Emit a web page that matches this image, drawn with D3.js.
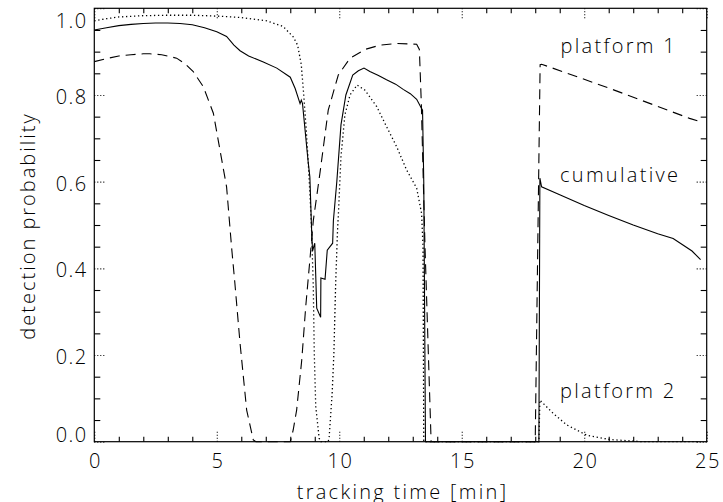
<!DOCTYPE html>
<html>
<head>
<meta charset="utf-8">
<script src="https://cdn.jsdelivr.net/npm/d3@7"></script>
<style>
  body { margin: 0; background: #fff; }
  text { font-family: "Open Sans", "DejaVu Sans", sans-serif; font-weight: 300; fill: #000; }
</style>
</head>
<body>
<div id="chart"></div>
<script>
// tick labels
var xTickVals = [0, 5, 10, 15, 20, 25];
var yTickVals = [0, 0.2, 0.4, 0.6, 0.8, 1.0];

// cumulative (solid)
var cumTime = [0, 0.5, 1, 1.5, 2, 2.5, 3, 3.5, 4, 4.5, 5, 5.4, 5.7, 5.95, 6.3, 6.9, 7.45, 8.0, 8.2, 8.4, 8.45, 8.5,
    8.73, 8.8, 8.87, 8.91, 9.0, 9.08, 9.24, 9.25, 9.42, 9.51, 9.73, 9.76, 9.9, 10.07, 10.27, 10.55, 10.78, 11.01,
    11.25, 11.6, 11.93, 12.3, 12.61, 12.9, 13.16, 13.3, 13.4, 13.45, 13.52, 18.15, 18.19, 18.26, 19, 20, 21, 22,
    23, 23.63, 24, 24.4, 24.75];
var cumProb = [0.950, 0.955, 0.960, 0.963, 0.965, 0.966, 0.966, 0.965, 0.962, 0.955, 0.946, 0.935, 0.915, 0.902,
    0.890, 0.876, 0.862, 0.841, 0.815, 0.780, 0.788, 0.780, 0.646, 0.611, 0.490, 0.440, 0.458, 0.308, 0.287, 0.378,
    0.375, 0.442, 0.458, 0.510, 0.600, 0.731, 0.800, 0.846, 0.856, 0.862, 0.854, 0.845, 0.835, 0.825, 0.813, 0.803,
    0.790, 0.775, 0.765, 0.600, 0, 0, 0.608, 0.588, 0.570, 0.545, 0.522, 0.500, 0.480, 0.469, 0.455, 0.440, 0.420];

// platform 1 (dashed)
var p1Time = [0, 0.5, 1, 1.5, 2, 2.27, 2.75, 3.36, 3.7, 4.04, 4.45, 4.86, 5.13, 5.4, 5.61, 5.74, 5.95, 6.22, 6.49,
    6.6, 8.0, 8.12, 8.26, 8.47, 8.63, 8.8, 8.94, 9.21, 9.55, 9.96, 10.44, 11.05, 11.66, 12.34, 13.16, 13.27, 13.35,
    13.5, 13.75, 18.0, 18.2, 18.26, 21.05, 24.3, 24.75];
var p1Prob = [0.877, 0.884, 0.890, 0.893, 0.895, 0.895, 0.893, 0.885, 0.872, 0.854, 0.819, 0.758, 0.673, 0.588,
    0.445, 0.365, 0.227, 0.073, 0.004, 0, 0, 0.027, 0.073, 0.189, 0.311, 0.419, 0.510, 0.619, 0.765, 0.846, 0.885,
    0.905, 0.915, 0.919, 0.917, 0.905, 0.780, 0.450, 0, 0, 0.870, 0.871, 0.815, 0.746, 0.738];

// platform 2 (dotted)
var p2Time = [0, 0.5, 1, 2, 3, 4, 5, 5.95, 7.04, 7.71, 8.12, 8.3, 8.45, 8.55, 8.65, 8.73, 8.83, 8.87, 8.94, 8.98,
    9.04, 9.18, 9.25, 9.55, 9.59, 9.71, 9.78, 9.85, 9.93, 9.96, 10.07, 10.23, 10.44, 10.73, 11.05, 11.53, 11.93,
    12.34, 12.75, 13.16, 13.36, 13.42, 13.45, 18.15, 18.19, 18.74, 19.28, 20.1, 21.05, 22.4, 24.75];
var p2Prob = [0.971, 0.976, 0.980, 0.983, 0.984, 0.984, 0.982, 0.979, 0.971, 0.958, 0.934, 0.915, 0.870, 0.800,
    0.720, 0.650, 0.540, 0.488, 0.358, 0.204, 0.081, 0.008, 0, 0, 0.012, 0.112, 0.204, 0.358, 0.488, 0.519, 0.658,
    0.754, 0.800, 0.823, 0.811, 0.773, 0.727, 0.681, 0.627, 0.585, 0.527, 0.450, 0, 0, 0.096, 0.065, 0.039, 0.015,
    0.005, 0, 0];

var labels = ["platform 1", "cumulative", "platform 2"];

(function () {
    var width = 723,
        height = 502,
        pl = 94.3, pr = 706.7, pt = 8.3, pb = 441.7;

    var svg = d3.select("#chart")
        .append("svg")
        .attr("width", width)
        .attr("height", height)
        .style("display", "block");

    svg.append("rect").attr("width", width).attr("height", height).attr("fill", "#fff");

    var x = d3.scaleLinear().domain([0, 25]).range([pl, pr]);
    var y = d3.scaleLinear().domain([0, 1]).range([pb, pt]);

    function zip(ts, ps) {
        return ts.map(function (t, i) { return [t, ps[i]]; });
    }

    var line = d3.line()
        .x(function (d) { return x(d[0]); })
        .y(function (d) { return y(d[1]); });

    var series = [
        { data: zip(cumTime, cumProb), dash: null, w: 1.1 },
        { data: zip(p1Time, p1Prob), dash: "10,6", w: 1.1 },
        { data: zip(p2Time, p2Prob), dash: "1.3,2.7", w: 1.3 }
    ];

    svg.selectAll(".series")
        .data(series)
        .enter().append("path")
        .attr("class", "series")
        .attr("d", function (d) { return line(d.data); })
        .attr("fill", "none")
        .attr("stroke", "#000")
        .attr("stroke-width", function (d) { return d.w; })
        .attr("stroke-dasharray", function (d) { return d.dash; });

    // minor ticks
    var xMinor = d3.range(0, 25.001, 1).filter(function (v) { return v % 5 !== 0; });
    var yMinor = d3.range(0, 20.5, 1).map(function (v) { return v / 20; })
        .filter(function (v) { return Math.round(v * 20) % 4 !== 0; });

    function styleAxis(g, dotted) {
        g.select(".domain").remove();
        g.selectAll(".tick line")
            .attr("stroke", "#000")
            .attr("stroke-width", 1.1)
            .attr("stroke-dasharray", dotted ? "1,2" : null);
        g.selectAll(".tick text")
            .style("font-family", null)
            .style("font-size", "20px")
            .style("letter-spacing", "1.5px")
            .attr("fill", "#000");
    }

    svg.append("g").attr("transform", "translate(0," + pb + ")")
        .call(d3.axisBottom(x).tickValues(xMinor).tickSize(-5).tickFormat(""))
        .call(styleAxis, false);
    svg.append("g").attr("transform", "translate(0," + pt + ")")
        .call(d3.axisTop(x).tickValues(xMinor).tickSize(-5).tickFormat(""))
        .call(styleAxis, false);
    svg.append("g").attr("transform", "translate(" + pl + ",0)")
        .call(d3.axisLeft(y).tickValues(yMinor).tickSize(-6).tickFormat(""))
        .call(styleAxis, false);
    svg.append("g").attr("transform", "translate(" + pr + ",0)")
        .call(d3.axisRight(y).tickValues(yMinor).tickSize(-6).tickFormat(""))
        .call(styleAxis, false);

    // major ticks (dotted) with labels
    var xAxisG = svg.append("g").attr("transform", "translate(0," + pb + ")")
        .call(d3.axisBottom(x).tickValues(xTickVals).tickSize(-10).tickPadding(12).tickFormat(d3.format("d")))
        .call(styleAxis, true);
    svg.append("g").attr("transform", "translate(0," + pt + ")")
        .call(d3.axisTop(x).tickValues(xTickVals).tickSize(-10).tickFormat(""))
        .call(styleAxis, true);
    var yAxisG = svg.append("g").attr("transform", "translate(" + pl + ",0)")
        .call(d3.axisLeft(y).tickValues(yTickVals).tickSize(-12).tickPadding(6.5).tickFormat(d3.format(".1f")))
        .call(styleAxis, true);
    svg.append("g").attr("transform", "translate(" + pr + ",0)")
        .call(d3.axisRight(y).tickValues(yTickVals).tickSize(-12).tickFormat(""))
        .call(styleAxis, true);

    // letter-spacing adds a trailing gap, so nudge centred labels back
    xAxisG.selectAll(".tick text").attr("dx", "0.75px");

    // end labels kept inside the frame, like the original
    yAxisG.selectAll(".tick text")
        .attr("dy", function (d) {
            if (d === 1) return "0.95em";
            if (d === 0) return "-0.03em";
            return "0.42em";
        });

    // frame
    svg.append("rect")
        .attr("x", pl).attr("y", pt)
        .attr("width", pr - pl).attr("height", pb - pt)
        .attr("fill", "none")
        .attr("stroke", "#000")
        .attr("stroke-width", 1.2);

    // axis titles
    svg.append("text")
        .attr("x", (pl + pr) / 2 + 2)
        .attr("y", 499)
        .attr("text-anchor", "middle")
        .style("font-size", "20px")
        .style("letter-spacing", "2.3px")
        .text("tracking time [min]");

    svg.append("text")
        .attr("transform", "translate(35," + ((pt + pb) / 2 + 1) + ") rotate(-90)")
        .attr("text-anchor", "middle")
        .style("font-size", "20px")
        .style("letter-spacing", "2.0px")
        .text("detection probability");

    // curve labels
    var labelPos = [[560.5, 53.3], [560, 182], [560, 398]];
    svg.selectAll(".curve-label")
        .data(labels)
        .enter().append("text")
        .attr("class", "curve-label")
        .attr("x", function (d, i) { return labelPos[i][0]; })
        .attr("y", function (d, i) { return labelPos[i][1]; })
        .style("font-size", "20px")
        .style("letter-spacing", "2.3px")
        .text(function (d) { return d; });
})();
</script>
</body>
</html>
